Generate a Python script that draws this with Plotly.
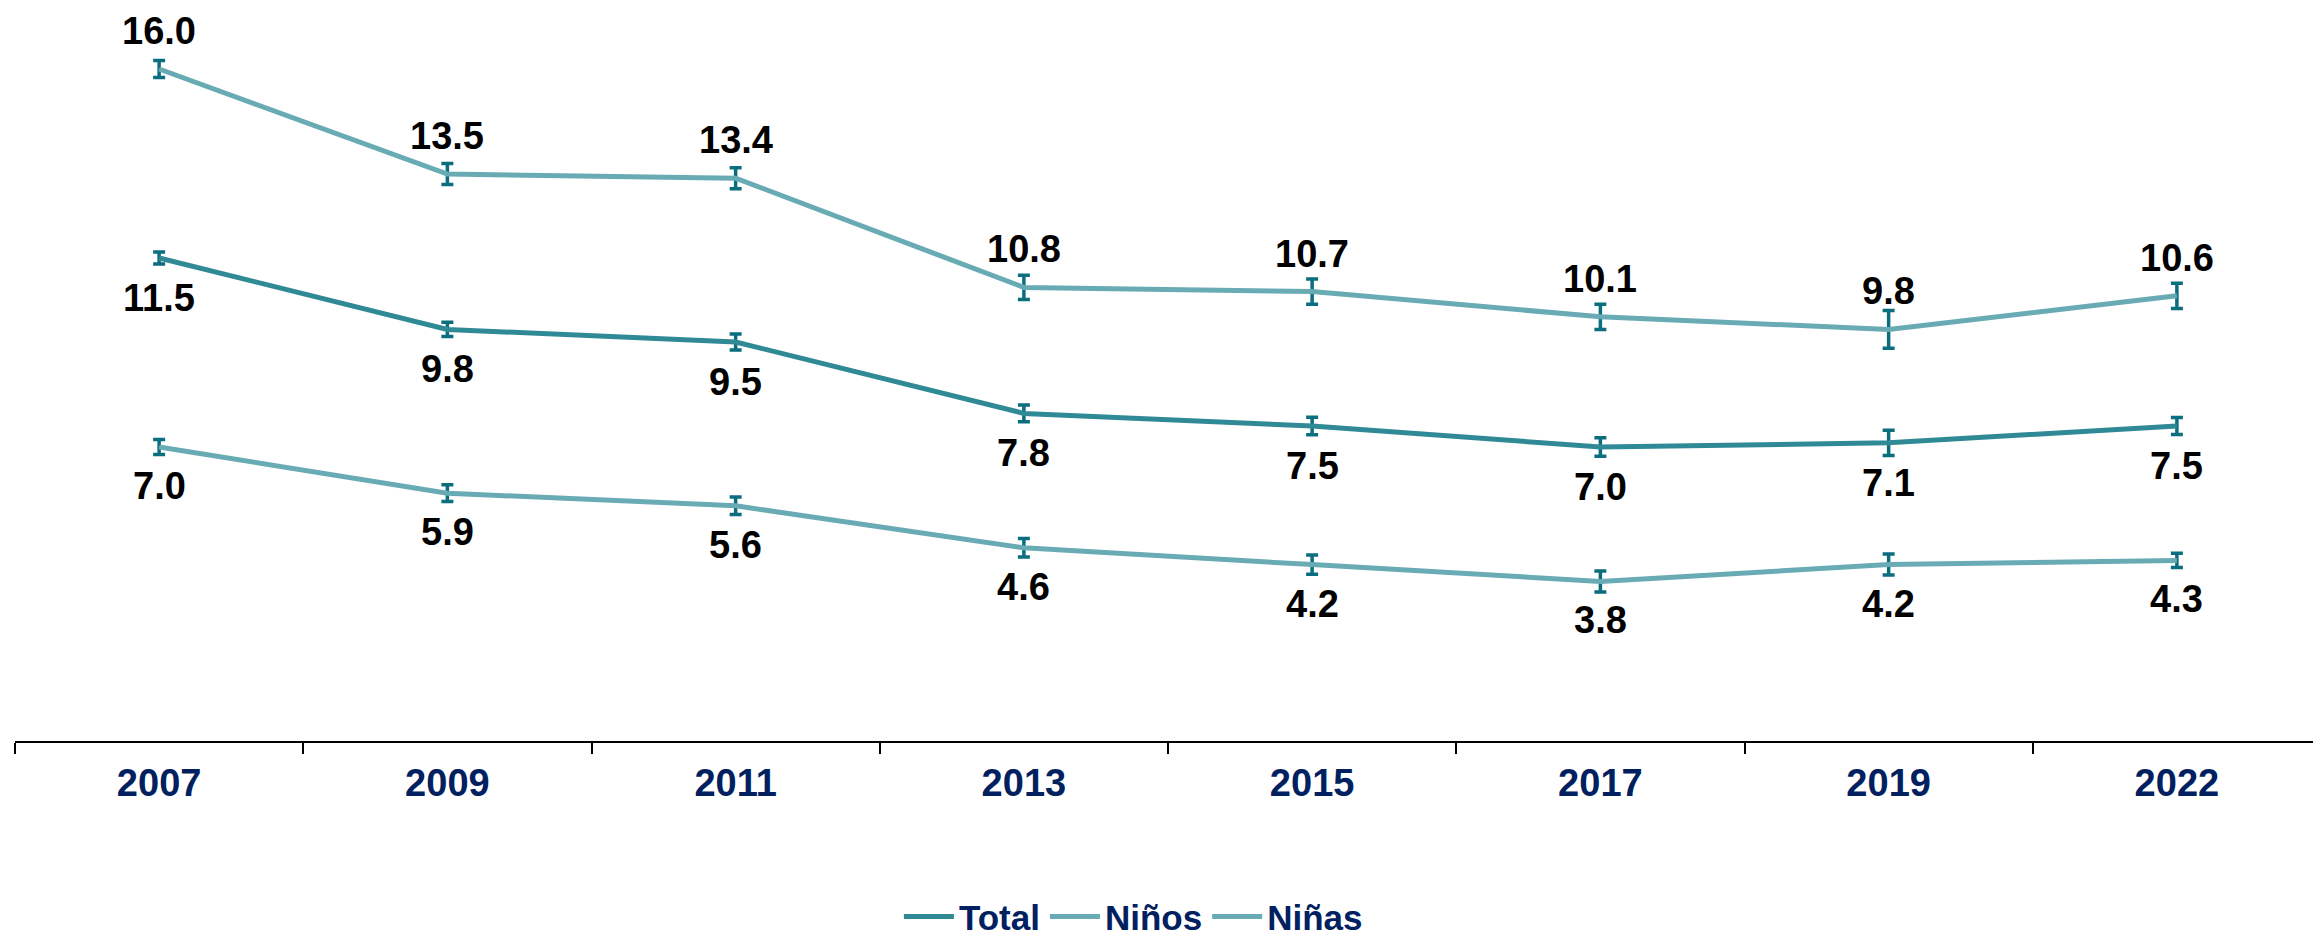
import plotly.graph_objects as go

ANIOS = ["2007", "2009", "2011", "2013", "2015", "2017", "2019", "2022"]

TOTAL = [11.5, 9.8, 9.5, 7.8, 7.5, 7.0, 7.1, 7.5]
NINOS = [16.0, 13.5, 13.4, 10.8, 10.7, 10.1, 9.8, 10.6]
NINAS = [7.0, 5.9, 5.6, 4.6, 4.2, 3.8, 4.2, 4.3]

ERR_TOTAL = [0.14, 0.17, 0.19, 0.20, 0.21, 0.22, 0.30, 0.20]
ERR_NINOS = [0.20, 0.25, 0.25, 0.29, 0.30, 0.30, 0.45, 0.30]
ERR_NINAS = [0.18, 0.20, 0.21, 0.22, 0.23, 0.25, 0.25, 0.17]

C_TOTAL = "#308A96"
C_SEXO = "#69ABB5"
C_ERR = "#0B6E7F"
NAVY = "#002060"
FUENTE = "Liberation Sans, Arial, sans-serif"

fig = go.Figure()

series = [
    ("Total", TOTAL, ERR_TOTAL, C_TOTAL, -40),
    ("Niños", NINOS, ERR_NINOS, C_SEXO, 38),
    ("Niñas", NINAS, ERR_NINAS, C_SEXO, -39),
]

for nombre, vals, errs, color, desplaz in series:
    fig.add_trace(
        go.Scatter(
            x=ANIOS,
            y=vals,
            name=f"<b>{nombre}</b>",
            mode="lines",
            line=dict(color=color, width=5),
            error_y=dict(
                type="data",
                array=errs,
                visible=True,
                color=C_ERR,
                thickness=3.5,
                width=6,
            ),
        )
    )
    # etiquetas de valor (x por índice de categoría)
    for i, v in enumerate(vals):
        fig.add_annotation(
            x=i,
            y=v,
            text=f"<b>{v:.1f}</b>",
            showarrow=False,
            yshift=desplaz,
            font=dict(family=FUENTE, size=38, color="black"),
        )

# la página tiene 8px de margen en el body: se compensa aquí
fig.update_layout(
    width=2313,
    height=930,
    margin=dict(l=7, r=0, t=19, b=197, autoexpand=False),
    plot_bgcolor="white",
    paper_bgcolor="white",
    font=dict(family=FUENTE),
    showlegend=True,
    legend=dict(
        orientation="h",
        x=0.485,
        xanchor="center",
        y=-0.246,
        yanchor="middle",
        font=dict(family=FUENTE, size=35, color=NAVY),
        itemwidth=50,
        traceorder="normal",
    ),
)

fig.update_xaxes(
    type="category",
    range=[-0.5, 7.5],
    showgrid=False,
    showline=True,
    linecolor="black",
    linewidth=2,
    ticks="outside",
    tickson="boundaries",
    ticklen=11,
    tickwidth=2,
    tickcolor="black",
    ticklabelstandoff=7,
    tickfont=dict(family=FUENTE, size=38, color=NAVY),
    tickprefix="<b>",
    ticksuffix="</b>",
)

fig.update_yaxes(
    range=[0, 17],
    visible=False,
    showgrid=False,
    zeroline=False,
)

fig.write_html("out.html")
